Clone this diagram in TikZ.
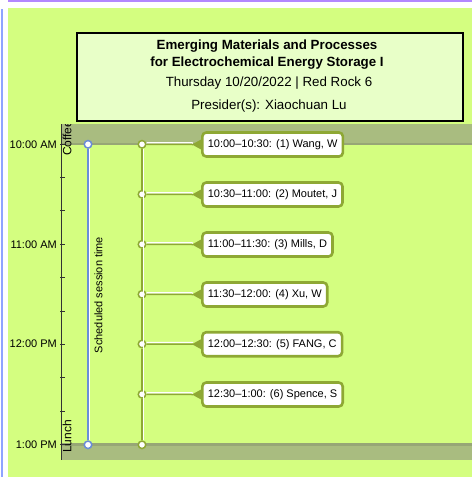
\documentclass[tikz,border=0pt]{standalone}
\usepackage{fontspec}
\setmainfont{Liberation Sans}
\definecolor{bg}{HTML}{D4FE80}
\definecolor{band}{HTML}{A9BC80}
\definecolor{bandedge}{HTML}{97A676}
\definecolor{olivec}{HTML}{8EA834}
\definecolor{bluec}{HTML}{6A8CD8}
\definecolor{titlefill}{HTML}{E8FFC8}
\definecolor{topline}{HTML}{B388FF}
\definecolor{leftline}{HTML}{8FA4FF}
\tikzset{
  titlebox/.style={draw=black,line width=2pt,fill=titlefill,inner sep=0pt},
  talkbox/.style={draw=olivec,line width=2.6pt,fill=white,rounded corners=4pt,
    anchor=west,inner xsep=5.5pt,minimum height=24pt,font=\fontsize{11}{13}\selectfont},
  timelbl/.style={anchor=east,inner sep=0pt,font=\fontsize{11}{13}\selectfont},
  oc/.style={circle,draw=olivec,fill=white,line width=1.5pt,minimum size=7.5pt,inner sep=0pt},
  bc/.style={circle,draw=bluec,fill=white,line width=1.5pt,minimum size=7.5pt,inner sep=0pt},
  oline/.style={draw=olivec,line width=1.5pt},
  bline/.style={draw=bluec,line width=1.5pt},
  halo/.style={draw=white,line width=1.5pt},
  tick/.style={draw=black!80,line width=0.9pt},
  pointer/.style={fill=olivec},
}
\begin{document}
\begin{tikzpicture}[x=1pt,y=-1pt]
\useasboundingbox (0,0) rectangle (472,477);
\fill[white] (0,0) rectangle (472,477);
\fill[topline] (8,0) rectangle (472,1.6);
\fill[leftline] (0.6,9) rectangle (2.6,477);
\fill[bg] (8,8) rectangle (472,477);

% title box
\node[titlebox,minimum width=386pt,minimum height=88pt] (title) at (269.5,76.5) {};
\node[font=\fontsize{13.33}{15}\selectfont\bfseries,inner sep=0pt] (t1) at (267,46.5) {Emerging Materials and Processes};
\node[font=\fontsize{13.33}{15}\selectfont\bfseries,inner sep=0pt] (t2) at (267,63.5) {for Electrochemical Energy Storage I};
\node[font=\fontsize{13.33}{15}\selectfont,inner sep=0pt] (t3) at (269,83.5) {Thursday 10/20/2022 | Red Rock 6};
\node[font=\fontsize{13.33}{15}\selectfont,inner sep=0pt] (t4) at (269,106) {Presider(s): Xiaochuan Lu};

% bands
\fill[band] (61,124) rectangle (472,145);
\fill[bandedge] (61,142.6) rectangle (472,145);
\fill[band] (61,443) rectangle (472,460);
\fill[bandedge] (61,443) rectangle (472,445.6);
\begin{scope}
\clip (60,124) rectangle (90,170);
\node[rotate=90,anchor=north west,inner sep=0pt,font=\fontsize{12}{14}\selectfont] (coffee) at (62.5,156) {Coffee};
\end{scope}
\node[rotate=90,anchor=north west,inner sep=0pt,font=\fontsize{12}{14}\selectfont] (lunch) at (62.5,453) {Lunch};

% axis
\draw[tick] (61,124) -- (61,460);
\foreach \i in {0,...,9} {
  \draw[tick] (60,144+\i*33.4) -- (64.5,144+\i*33.4);
}
\node[timelbl] (l10) at (57,144.3) {10:00 AM};
\node[timelbl] (l11) at (57,244.3) {11:00 AM};
\node[timelbl] (l12) at (57,344) {12:00 PM};
\node[timelbl] (l1) at (57,444.5) {1:00 PM};

% scheduled session time
\node[bc] (bs) at (88,144.3) {};
\node[bc] (be) at (88,444.8) {};
\draw[halo] ([xshift=1.5pt]bs.south) -- ([xshift=1.5pt]be.north);
\draw[bline] (bs) -- (be);
\node[rotate=90,inner sep=0pt,font=\fontsize{11}{13}\selectfont] (sst) at (98.5,295) {Scheduled session time};

% talks
\node[oc] (c1) at (142,144.3) {};
\node[oc] (c2) at (142,194.3) {};
\node[oc] (c3) at (142,244.3) {};
\node[oc] (c4) at (142,294.3) {};
\node[oc] (c5) at (142,344) {};
\node[oc] (c6) at (142,394.3) {};
\node[oc] (c7) at (142,444.8) {};
\draw[halo] ([xshift=1.5pt]c1.south) -- ([xshift=1.5pt]c7.north);
\draw[oline] (c1) -- (c2) -- (c3) -- (c4) -- (c5) -- (c6) -- (c7);

\node[talkbox] (k1) at (201,144.5) {10:00–10:30: (1) Wang, W};
\node[talkbox] (k2) at (201,194.5) {10:30–11:00: (2) Moutet, J};
\node[talkbox] (k3) at (201,244.5) {11:00–11:30: (3) Mills, D};
\node[talkbox] (k4) at (201,294.5) {11:30–12:00: (4) Xu, W};
\node[talkbox] (k5) at (201,344.2) {12:00–12:30: (5) FANG, C};
\node[talkbox] (k6) at (201,394.5) {12:30–1:00: (6) Spence, S};

\foreach \k/\c in {k1/c1,k2/c2,k3/c3,k4/c4,k5/c5,k6/c6} {
  \draw[halo] ([yshift=1.5pt]\c.east) -- ([yshift=1.5pt,xshift=-8pt]\k.west);
  \draw[oline] (\c) -- ([xshift=-8pt]\k.west);
  \fill[pointer] ([xshift=1pt,yshift=-5.5pt]\k.west) -- ([xshift=-9pt]\k.west) -- ([xshift=1pt,yshift=5.5pt]\k.west) -- cycle;
}
\end{tikzpicture}
\end{document}
